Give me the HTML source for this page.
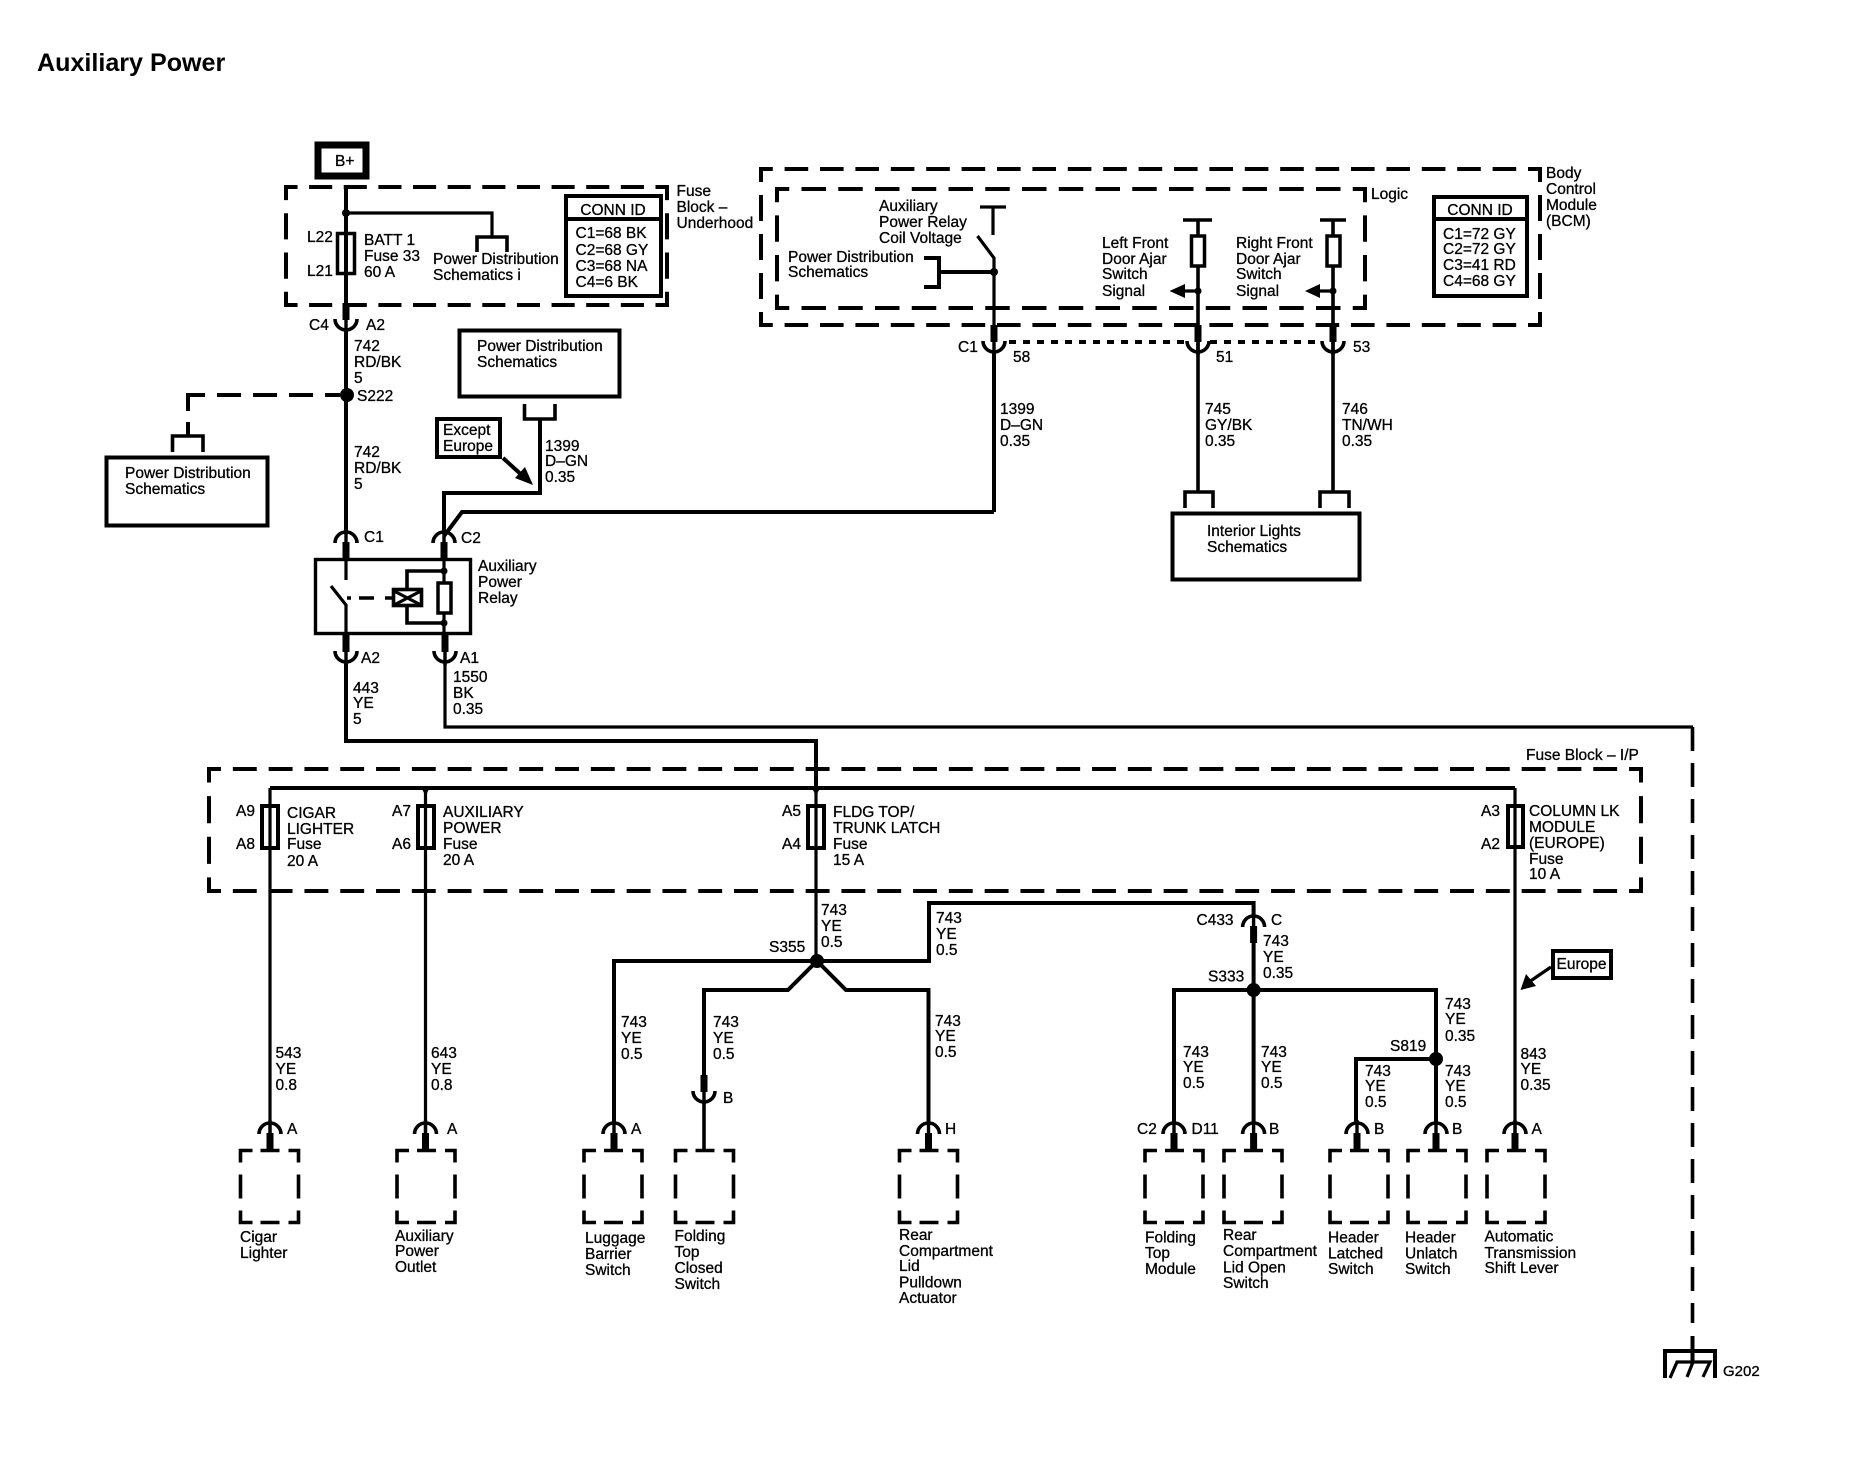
<!DOCTYPE html>
<html><head><meta charset="utf-8"><style>
html,body{margin:0;padding:0;background:#fff;width:1868px;height:1472px;overflow:hidden}
svg{display:block}
text{font-family:"Liberation Sans",sans-serif;font-size:15.5px;fill:#000;stroke:#000;stroke-width:.3}
.w{fill:none;stroke:#000;stroke-width:4}
.t{fill:none;stroke:#000;stroke-width:3.2}
.d{fill:none;stroke:#000;stroke-width:4}
.b{fill:none;stroke:#000;stroke-width:4}
.k{fill:#000;stroke:none}
.c{fill:none;stroke:#000;stroke-width:3.6}
</style></head><body>
<svg width="1868" height="1472" viewBox="0 0 1868 1472" xmlns="http://www.w3.org/2000/svg">
<defs>
<g id="cu"><path d="M-11,0A11,11 0 0 0 11,0" class="c"/><rect x="-3.5" y="-16" width="7" height="17" class="k"/><rect x="-1.7" y="0" width="3.4" height="14" class="k"/></g>
<g id="cd"><path d="M-11,0A11,11 0 0 1 11,0" class="c"/><rect x="-3.5" y="-1" width="7" height="17" class="k"/><rect x="-1.7" y="-14" width="3.4" height="14" class="k"/></g>
<path id="bx1" class="c" d="M0,12V0H12M20,0H39M48,0H58V12M58,24V48M58,60V72H48M39,72H20M12,72H0V60M0,48V24"/>
</defs>

<text x="37" y="71" style="font-size:25.1px;font-weight:bold;stroke-width:0">Auxiliary Power</text>

<!-- B+ -->
<rect x="318" y="145" width="48" height="31" fill="none" stroke="#000" stroke-width="7"/>
<text x="335" y="166">B+</text>

<!-- Fuse block underhood -->
<path class="d" d="M284,187H669M284,305H669" stroke-dasharray="23.1 11.54" stroke-dashoffset="9.55"/>
<path class="d" d="M286,185V307M667,185V307" stroke-dasharray="26.2 13.1" stroke-dashoffset="11.1"/>
<path class="w" d="M346,187V306"/>
<path class="t" d="M346,213H492V237"/>
<circle cx="346" cy="213" r="4" class="k"/>
<path class="c" d="M477,252V237H507V252"/>
<rect x="337.5" y="233.5" width="17" height="40" fill="none" stroke="#000" stroke-width="3.5"/>
<text x="307" y="242">L22</text><text x="307" y="276">L21</text>
<text x="364" y="245">BATT 1</text><text x="364" y="261">Fuse 33</text><text x="364" y="277">60 A</text>
<text x="433" y="264">Power Distribution</text><text x="433" y="280">Schematics i</text>
<rect x="566" y="196" width="95" height="100" class="b"/><path class="b" d="M566,219H661"/>
<text x="613" y="215" text-anchor="middle">CONN ID</text>
<text x="575.5" y="238">C1=68 BK</text><text x="575.5" y="255">C2=68 GY</text><text x="575.5" y="271">C3=68 NA</text><text x="575.5" y="287">C4=6 BK</text>
<text x="676.5" y="196">Fuse</text><text x="676.5" y="212">Block –</text><text x="676.5" y="228">Underhood</text>

<use href="#cu" x="346" y="319"/>
<text x="309" y="330">C4</text><text x="366" y="330">A2</text>
<path class="w" d="M346,330V534"/>
<text x="354" y="351">742</text><text x="354" y="367">RD/BK</text><text x="354" y="383">5</text>
<circle cx="347" cy="395" r="7" class="k"/>
<text x="357" y="401">S222</text>
<text x="354" y="457">742</text><text x="354" y="473">RD/BK</text><text x="354" y="489">5</text>
<path class="w" d="M340,395H325M313,395H289M277,395H253M241,395H217M205,395H188V411M188,422V436"/>
<path class="c" d="M172.5,452V436H203V452"/>
<rect x="106.5" y="457.5" width="161" height="68" class="b" stroke-width="5"/>
<text x="125" y="478">Power Distribution</text><text x="125" y="494">Schematics</text>

<rect x="459.5" y="330.5" width="160" height="66" class="b"/>
<text x="477" y="351">Power Distribution</text><text x="477" y="367">Schematics</text>
<path class="c" d="M524.5,404V419H555V404"/>
<path class="w" d="M540,419V493H444V534"/>
<text x="545" y="451">1399</text><text x="545" y="466">D–GN</text><text x="545" y="482">0.35</text>
<rect x="437" y="419" width="63" height="38" class="b"/>
<text x="443" y="435">Except</text><text x="443" y="451">Europe</text>
<path class="w" d="M503,458L525,478"/><path class="k" d="M533,485L515,478L525,467Z"/>
<path class="w" d="M444,536L462,512H994"/>

<!-- BCM -->
<path class="d" d="M759,169H1542M759,325H1542" stroke-dasharray="23.6 11.8" stroke-dashoffset="9.8"/>
<path class="d" d="M761,167V327M1540,167V327" stroke-dasharray="26 13" stroke-dashoffset="11"/>
<path class="d" d="M775,189H1367M775,308H1367" stroke-dasharray="24.5 12.25" stroke-dashoffset="10.25"/>
<path class="d" d="M777,187V310M1365,187V310" stroke-dasharray="26.4 13.2" stroke-dashoffset="11.2"/>
<text x="1371" y="199">Logic</text>
<text x="1546" y="178">Body</text><text x="1546" y="194">Control</text><text x="1546" y="210">Module</text><text x="1546" y="226">(BCM)</text>
<rect x="1434" y="197" width="93" height="99" class="b"/><path class="b" d="M1434,219H1527"/>
<text x="1480" y="215" text-anchor="middle">CONN ID</text>
<text x="1443" y="239">C1=72 GY</text><text x="1443" y="254">C2=72 GY</text><text x="1443" y="270">C3=41 RD</text><text x="1443" y="286">C4=68 GY</text>
<text x="879" y="211">Auxiliary</text><text x="879" y="227">Power Relay</text><text x="879" y="243">Coil Voltage</text>
<text x="788" y="262">Power Distribution</text><text x="788" y="277">Schematics</text>
<path class="t" d="M980,207H1006M993,207V235"/>
<path class="t" d="M977.5,236L994,258V341"/>
<path class="w" d="M994,352V512"/>
<path class="w" d="M924,258H939V287H924M939,272H994"/>
<circle cx="994" cy="272" r="4" class="k"/>

<text x="1102" y="248">Left Front</text><text x="1102" y="264">Door Ajar</text><text x="1102" y="279">Switch</text><text x="1102" y="296">Signal</text>
<text x="1236" y="248">Right Front</text><text x="1236" y="264">Door Ajar</text><text x="1236" y="279">Switch</text><text x="1236" y="296">Signal</text>
<path class="c" d="M1183,220H1212M1198,220V492"/>
<path class="c" d="M1320,220H1346M1333,220V492"/>
<rect x="1191.5" y="236" width="13" height="30" fill="#fff" stroke="#000" stroke-width="3.5"/>
<rect x="1327" y="236" width="13" height="30" fill="#fff" stroke="#000" stroke-width="3.5"/>
<circle cx="1198" cy="291" r="3.5" class="k"/><circle cx="1333" cy="291" r="3.5" class="k"/>
<path class="k" d="M1169.5,291L1185,284V298Z"/><path class="k" d="M1305,291L1320,284V298Z"/>
<path class="t" d="M1185,291H1198M1320,291H1333"/>

<use href="#cu" x="994" y="341"/><use href="#cu" x="1198" y="341"/><use href="#cu" x="1333" y="341"/>
<path d="M1009,342H1186M1210,342H1321" fill="none" stroke="#000" stroke-width="4" stroke-dasharray="7 7"/>
<text x="958" y="352">C1</text><text x="1013" y="362">58</text><text x="1216" y="362">51</text><text x="1353" y="352">53</text>
<text x="1000" y="414">1399</text><text x="1000" y="430">D–GN</text><text x="1000" y="446">0.35</text>
<text x="1205" y="414">745</text><text x="1205" y="430">GY/BK</text><text x="1205" y="446">0.35</text>
<text x="1342" y="414">746</text><text x="1342" y="430">TN/WH</text><text x="1342" y="446">0.35</text>
<path class="c" d="M1185,508V492H1213V508M1320,508V492H1349V508"/>
<rect x="1172.5" y="513.5" width="187" height="66" class="b"/>
<text x="1207" y="536">Interior Lights</text><text x="1207" y="552">Schematics</text>

<!-- Relay -->
<use href="#cd" x="346" y="543"/><use href="#cd" x="444" y="543"/>
<text x="364" y="542">C1</text><text x="461" y="543">C2</text>
<rect x="315.5" y="559.5" width="155" height="74" fill="none" stroke="#000" stroke-width="3.4"/>
<path class="t" d="M346,559V580M331,586L346,605V650"/>
<path class="c" d="M347,598H351M359,598H374M385,598H392"/>
<rect x="393.5" y="589.5" width="28" height="16" fill="#fff" stroke="#000" stroke-width="3.6"/>
<path class="t" d="M394,591L421,605M421,591L394,605"/>
<path class="t" d="M444,559V650"/>
<path class="c" d="M444,571H407V589M407,606V623H444"/>
<rect x="438" y="583" width="13" height="30" fill="#fff" stroke="#000" stroke-width="3.5"/>
<circle cx="444" cy="571" r="3.5" class="k"/><circle cx="444" cy="623" r="3.5" class="k"/>
<text x="478" y="571">Auxiliary</text><text x="478" y="587">Power</text><text x="478" y="603">Relay</text>
<use href="#cu" x="346" y="651"/><use href="#cu" x="445" y="651"/>
<text x="361" y="663">A2</text><text x="460" y="663">A1</text>
<path class="w" d="M346,662V741H816V788"/>
<path class="t" d="M445,662V727H1693"/>
<path class="c" d="M1692.5,727V1323" stroke-dasharray="24 12"/>
<text x="353" y="693">443</text><text x="353" y="708">YE</text><text x="353" y="724">5</text>
<text x="453" y="682">1550</text><text x="453" y="698">BK</text><text x="453" y="714">0.35</text>

<!-- Ground -->
<path class="w" d="M1692.5,1336V1362"/>
<path class="w" d="M1665,1378V1351H1715V1378"/>
<path class="t" d="M1670,1378L1677,1362H1710L1703,1377M1693,1362L1687,1377"/>
<text x="1723" y="1376" style="font-size:15px">G202</text>

<!-- Fuse block IP -->
<path class="d" d="M207,769H1643M207,891H1643" stroke-dasharray="23.9 11.9" stroke-dashoffset="9.95"/>
<path class="d" d="M209,767V893M1641,767V893" stroke-dasharray="27.1 13.55" stroke-dashoffset="11.55"/>
<text x="1526" y="760">Fuse Block – I/P</text>
<path class="w" d="M270,788H1515"/>
<path class="k" d="M425.5,796L421,787H430ZM816,796L811.5,787H820.5Z"/>
<path class="t" d="M270,788V1135M425.5,788V1135M816,788V961M1515,788V1135"/>
<rect x="262" y="806" width="16" height="42" fill="none" stroke="#000" stroke-width="4"/>
<rect x="418" y="806" width="16" height="42" fill="none" stroke="#000" stroke-width="4"/>
<rect x="808" y="806" width="16" height="42" fill="none" stroke="#000" stroke-width="4"/>
<rect x="1508" y="806" width="15" height="41" fill="none" stroke="#000" stroke-width="4"/>
<text x="236" y="816">A9</text><text x="236" y="849">A8</text>
<text x="392" y="816">A7</text><text x="392" y="849">A6</text>
<text x="782" y="816">A5</text><text x="782" y="849">A4</text>
<text x="1481" y="816">A3</text><text x="1481" y="849">A2</text>
<text x="287" y="818">CIGAR</text><text x="287" y="834">LIGHTER</text><text x="287" y="849">Fuse</text><text x="287" y="866">20 A</text>
<text x="443" y="817">AUXILIARY</text><text x="443" y="833">POWER</text><text x="443" y="849">Fuse</text><text x="443" y="865">20 A</text>
<text x="833" y="817">FLDG TOP/</text><text x="833" y="833">TRUNK LATCH</text><text x="833" y="849">Fuse</text><text x="833" y="865">15 A</text>
<text x="1529" y="816">COLUMN LK</text><text x="1529" y="832">MODULE</text><text x="1529" y="848">(EUROPE)</text><text x="1529" y="864">Fuse</text><text x="1529" y="879">10 A</text>

<!-- Harness -->
<circle cx="817" cy="961" r="7" class="k"/>
<text x="821" y="915">743</text><text x="821" y="931">YE</text><text x="821" y="947">0.5</text>
<text x="769" y="952">S355</text>
<path class="w" d="M614,1123V961H929V903H1253.6V915"/>
<path class="w" d="M704,1076V990H788L817,961L846,990H928.5V1123"/>
<text x="936" y="923">743</text><text x="936" y="939">YE</text><text x="936" y="955">0.5</text>
<text x="621" y="1027">743</text><text x="621" y="1043">YE</text><text x="621" y="1059">0.5</text>
<text x="713" y="1027">743</text><text x="713" y="1043">YE</text><text x="713" y="1059">0.5</text>
<text x="935" y="1026">743</text><text x="935" y="1041">YE</text><text x="935" y="1057">0.5</text>
<text x="275.5" y="1058">543</text><text x="275.5" y="1074">YE</text><text x="275.5" y="1090">0.8</text>
<text x="431" y="1058">643</text><text x="431" y="1074">YE</text><text x="431" y="1090">0.8</text>
<use href="#cu" x="704" y="1091"/>
<path class="c" d="M704,1103V1151"/>
<text x="723" y="1103">B</text>

<use href="#cd" x="1253.6" y="927"/>
<path class="w" d="M1253.6,943V1123"/>
<text x="1196.5" y="925">C433</text><text x="1271" y="925">C</text>
<text x="1263" y="946">743</text><text x="1263" y="962">YE</text><text x="1263" y="978">0.35</text>
<text x="1208" y="981.5">S333</text>
<circle cx="1253.6" cy="990" r="7" class="k"/>
<path class="w" d="M1174,1123V990H1436V1123"/>
<circle cx="1436" cy="1059" r="7" class="k"/>
<path class="w" d="M1436,1059H1356V1123"/>
<text x="1390" y="1051">S819</text>
<text x="1445" y="1009">743</text><text x="1445" y="1024">YE</text><text x="1445" y="1041">0.35</text>
<text x="1445" y="1076">743</text><text x="1445" y="1091">YE</text><text x="1445" y="1107">0.5</text>
<text x="1365" y="1076">743</text><text x="1365" y="1091">YE</text><text x="1365" y="1107">0.5</text>
<text x="1183" y="1057">743</text><text x="1183" y="1072">YE</text><text x="1183" y="1088">0.5</text>
<text x="1261" y="1057">743</text><text x="1261" y="1072">YE</text><text x="1261" y="1088">0.5</text>
<text x="1520.5" y="1059">843</text><text x="1520.5" y="1074">YE</text><text x="1520.5" y="1090">0.35</text>
<rect x="1553" y="951" width="58" height="27" class="b"/>
<text x="1556.5" y="969">Europe</text>
<path class="t" d="M1551,967L1529,982"/><path class="k" d="M1520.5,990L1526,974L1536,986Z"/>

<!-- Cups -->
<use href="#cd" x="270" y="1134"/><use href="#cd" x="425.5" y="1134"/><use href="#cd" x="614" y="1134"/><use href="#cd" x="928.5" y="1134"/>
<use href="#cd" x="1174" y="1134"/><use href="#cd" x="1253.6" y="1134"/><use href="#cd" x="1357" y="1134"/><use href="#cd" x="1436" y="1134"/><use href="#cd" x="1515" y="1134"/>
<text x="287" y="1134">A</text><text x="447" y="1134">A</text><text x="631" y="1134">A</text><text x="945" y="1134">H</text>
<text x="1137" y="1134">C2</text><text x="1191.5" y="1134">D11</text><text x="1269" y="1134">B</text><text x="1374" y="1134">B</text><text x="1452" y="1134">B</text><text x="1531.5" y="1134">A</text>

<!-- Dashed components -->
<use href="#bx1" x="240.5" y="1150.5"/><use href="#bx1" x="397" y="1150.5"/><use href="#bx1" x="584" y="1150.5"/><use href="#bx1" x="675.5" y="1150.5"/><use href="#bx1" x="899.5" y="1150.5"/>
<use href="#bx1" x="1145" y="1150.5"/><use href="#bx1" x="1224" y="1150.5"/><use href="#bx1" x="1330" y="1150.5"/><use href="#bx1" x="1408" y="1150.5"/><use href="#bx1" x="1487" y="1150.5"/>

<text x="240" y="1242">Cigar</text><text x="240" y="1258">Lighter</text>
<text x="395" y="1241">Auxiliary</text><text x="395" y="1256">Power</text><text x="395" y="1272">Outlet</text>
<text x="585" y="1243">Luggage</text><text x="585" y="1259">Barrier</text><text x="585" y="1275">Switch</text>
<text x="674.5" y="1241">Folding</text><text x="674.5" y="1257">Top</text><text x="674.5" y="1273">Closed</text><text x="674.5" y="1289">Switch</text>
<text x="899" y="1240">Rear</text><text x="899" y="1256">Compartment</text><text x="899" y="1271">Lid</text><text x="899" y="1287.5">Pulldown</text><text x="899" y="1303">Actuator</text>
<text x="1145" y="1242.5">Folding</text><text x="1145" y="1258">Top</text><text x="1145" y="1274">Module</text>
<text x="1223" y="1240">Rear</text><text x="1223" y="1256">Compartment</text><text x="1223" y="1272.5">Lid Open</text><text x="1223" y="1288">Switch</text>
<text x="1328" y="1242.5">Header</text><text x="1328" y="1258.5">Latched</text><text x="1328" y="1274">Switch</text>
<text x="1405" y="1242.5">Header</text><text x="1405" y="1258.5">Unlatch</text><text x="1405" y="1274">Switch</text>
<text x="1484.5" y="1241.7">Automatic</text><text x="1484.5" y="1258">Transmission</text><text x="1484.5" y="1273">Shift Lever</text>
</svg>
</body></html>
